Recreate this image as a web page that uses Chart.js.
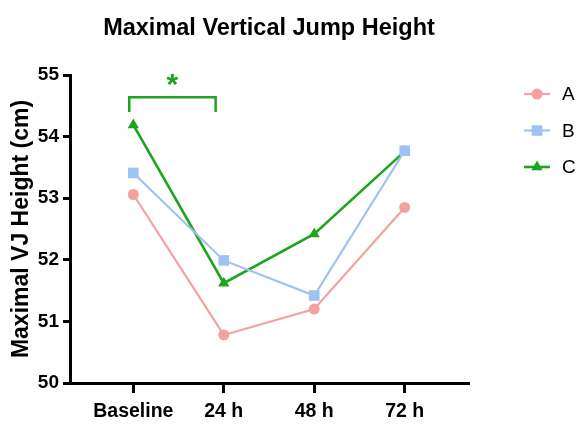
<!DOCTYPE html>
<html>
<head>
<meta charset="utf-8">
<script src="https://cdn.jsdelivr.net/npm/chart.js@4.4.1/dist/chart.umd.min.js"></script>
<style>
  html, body { margin: 0; padding: 0; background: #fff; }
  .wrap { width: 581px; height: 425px; position: relative; }
</style>
</head>
<body>
<div class="wrap"><canvas id="chart"></canvas></div>
<script>
// ===== Maximal VJ height over time =====
const TIMEPOINTS = ["Baseline", "24 h", "48 h", "72 h"];
const SERIES_A = [53.06, 50.78, 51.20, 52.85];
const SERIES_B = [53.41, 51.99, 51.42, 53.77];
const SERIES_C = [54.19, 51.62, 52.42, 53.76];
const Y_TICKS = [50, 51, 52, 53, 54, 55];

const SANS = "'Liberation Sans', Arial, sans-serif";
const PINK = "#f2a3a1", BLUE = "#9ec3f3", GREEN = "#1ea51e";

const el = (id) => document.getElementById(id);
const pts = (arr) => arr.map((v, i) => ({ x: i, y: v }));

// title, legend and significance bracket drawn on top of the chart
const extras = {
  id: "extras",
  afterDraw(chart) {
    const { ctx, chartArea: a, scales: { x, y } } = chart;
    ctx.save();
    // title
    ctx.fillStyle = "#000";
    ctx.font = "bold 23.5px " + SANS;
    ctx.textAlign = "center";
    ctx.textBaseline = "middle";
    ctx.fillText("Maximal Vertical Jump Height", (a.left + a.right) / 2, 29);

    // bracket Baseline vs 24 h (C)
    const x0 = x.getPixelForValue(-0.045), x1 = x.getPixelForValue(0.91);
    const yTop = y.getPixelForValue(54.64), yEnd = y.getPixelForValue(54.4);
    ctx.strokeStyle = GREEN;
    ctx.lineWidth = 2.5;
    ctx.beginPath();
    ctx.moveTo(x0, yEnd); ctx.lineTo(x0, yTop); ctx.lineTo(x1, yTop); ctx.lineTo(x1, yEnd);
    ctx.stroke();
    ctx.fillStyle = GREEN;
    ctx.font = "bold 30px " + SANS;
    ctx.fillText("*", (x0 + x1) / 2, y.getPixelForValue(54.9) + 5);

    // legend
    const lx = a.right + 69;
    chart.data.datasets.forEach((ds, i) => {
      const ly = 94 + i * 36.5;
      ctx.strokeStyle = ds.borderColor;
      ctx.lineWidth = ds.borderWidth;
      ctx.beginPath(); ctx.moveTo(lx - 13, ly); ctx.lineTo(lx + 13, ly); ctx.stroke();
      ctx.fillStyle = ds.pointBackgroundColor;
      Chart.helpers.drawPoint(ctx, { pointStyle: ds.pointStyle, radius: ds.pointRadius, borderWidth: 0 }, lx, ly);
      ctx.fillStyle = "#000";
      ctx.font = "19px " + SANS;
      ctx.textAlign = "left";
      ctx.fillText(ds.label, lx + 25, ly + 1);
    });
    ctx.restore();
  }
};

function line(label, data, color, style, radius, width) {
  return {
    label, data: pts(data),
    borderColor: color, backgroundColor: color,
    pointBackgroundColor: color, pointBorderColor: color,
    pointStyle: style, pointRadius: radius, pointBorderWidth: 0,
    borderWidth: width, tension: 0
  };
}

new Chart(el("chart"), {
  type: "line",
  data: {
    datasets: [
      line("A", SERIES_A, PINK, "circle", 5.5, 2.2),
      line("B", SERIES_B, BLUE, "rect", 7.5, 2.2),
      line("C", SERIES_C, GREEN, "triangle", 6.5, 2.6)
    ]
  },
  options: {
    responsive: true, maintainAspectRatio: false, animation: false,
    layout: { padding: { top: 75, right: 113, left: 0, bottom: 0 } },
    plugins: { legend: { display: false }, tooltip: { enabled: false }, title: { display: false } },
    scales: {
      x: {
        type: "linear", min: -0.7, max: 3.7,
        afterBuildTicks: s => { s.ticks = TIMEPOINTS.map((_, i) => ({ value: i })); },
        afterFit: s => { s.height = 42; },
        border: { display: true, color: "#000", width: 3 },
        grid: { display: true, drawOnChartArea: false, drawTicks: true, tickLength: 10, color: "#000", lineWidth: 3 },
        ticks: { color: "#000", padding: 7, maxRotation: 0, autoSkip: false,
          font: { family: SANS, size: 19.5, weight: "bold" },
          callback: v => TIMEPOINTS[v] }
      },
      y: {
        min: 50, max: 55,
        afterBuildTicks: s => { s.ticks = Y_TICKS.map(v => ({ value: v })); },
        afterFit: s => { s.width = 70; },
        border: { display: true, color: "#000", width: 3 },
        grid: { display: true, drawOnChartArea: false, drawTicks: true, tickLength: 7, color: "#000", lineWidth: 3 },
        ticks: { color: "#000", padding: 4, font: { family: SANS, size: 19, weight: "bold" } },
        title: { display: true, text: "Maximal VJ Height (cm)", color: "#000", padding: { top: 8, bottom: 0 },
          font: { family: SANS, size: 23, weight: "bold" } }
      }
    }
  },
  plugins: [extras]
});
</script>
</body>
</html>
